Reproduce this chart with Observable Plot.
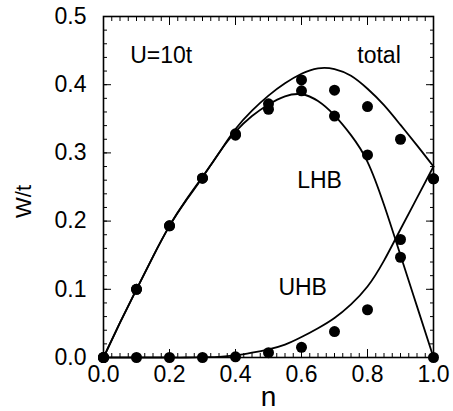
<!DOCTYPE html>
<html><head><meta charset="utf-8">
<script src="https://cdn.jsdelivr.net/npm/d3@7"></script>
<script src="https://cdn.jsdelivr.net/npm/@observablehq/plot@0.6"></script>
<style>body{margin:0;background:#fff} svg{display:block}</style>
</head><body><div id="chart"></div>
<script>
// curve samples
const nCurve     = [0, 0.05, 0.1, 0.15, 0.2, 0.25, 0.3, 0.35, 0.4, 0.45, 0.5, 0.55, 0.6, 0.65, 0.7, 0.75, 0.8, 0.85, 0.9, 0.95, 1.0];
const totalCurve = [0, 0.051, 0.100, 0.148, 0.193, 0.231, 0.265, 0.300, 0.335, 0.362, 0.384, 0.402, 0.416, 0.424, 0.423, 0.413, 0.394, 0.370, 0.341, 0.311, 0.280];
const lhbCurve   = [0, 0.051, 0.100, 0.148, 0.193, 0.230, 0.264, 0.300, 0.331, 0.354, 0.371, 0.383, 0.386, 0.376, 0.355, 0.326, 0.287, 0.224, 0.150, 0.075, 0];
const uhbCurve   = [0, 0, 0, 0, 0, 0, 0.0005, 0.001, 0.003, 0.007, 0.012, 0.019, 0.030, 0.043, 0.058, 0.078, 0.104, 0.142, 0.188, 0.234, 0.280];

// data points
const nDots     = [0, 0.1, 0.2, 0.3, 0.4, 0.5, 0.6, 0.7, 0.8, 0.9, 1.0];
const totalDots = [0, 0.100, 0.193, 0.263, 0.328, 0.372, 0.407, 0.392, 0.368, 0.320, 0.262];
const lhbDots   = [0, 0.100, 0.193, 0.263, 0.326, 0.364, 0.391, 0.354, 0.297, 0.147, 0];
const uhbDots   = [0, 0, 0, 0, 0.001, 0.007, 0.015, 0.038, 0.070, 0.173, 0.262];

// ticks
const xMajor = [0, 0.2, 0.4, 0.6, 0.8, 1.0];
const xMinor = d3.range(0, 41).map(i => i / 40);
const yMajor = [0, 0.1, 0.2, 0.3, 0.4, 0.5];
const yMinor = d3.range(0, 26).map(i => i / 50);

// annotations
const labels = ["U=10t", "total", "LHB", "UHB"];
const labelN = [0.081, 0.769, 0.587, 0.530];
const labelW = [0.442, 0.442, 0.260, 0.103];

const series = [["total", totalCurve], ["LHB", lhbCurve], ["UHB", uhbCurve]];
const curveRows = series.flatMap(([s, ys]) => nCurve.map((n, i) => ({s, n, w: ys[i]})));
const dotRows = [totalDots, lhbDots, uhbDots].flatMap(ys => nDots.map((n, i) => ({n, w: ys[i]})));
const labelRows = labels.map((t, i) => ({t, n: labelN[i], w: labelW[i]}));

const font = "'Liberation Sans', Arial, Helvetica, sans-serif";
const blank = () => "";

const chart = Plot.plot({
  width: 453, height: 411,
  marginLeft: 103, marginRight: 20, marginTop: 16, marginBottom: 54,
  x: {domain: [0, 1]},
  y: {domain: [0, 0.5]},
  style: {fontFamily: font, fontSize: "23px", color: "black", background: "white"},
  marks: [
    Plot.axisX({anchor: "bottom", ticks: xMinor, tickSize: -4, tickFormat: blank, label: null}),
    Plot.axisX({anchor: "top", ticks: xMinor, tickSize: -4, tickFormat: blank, label: null}),
    Plot.axisY({anchor: "left", ticks: yMinor, tickSize: -4, tickFormat: blank, label: null}),
    Plot.axisY({anchor: "right", ticks: yMinor, tickSize: -4, tickFormat: blank, label: null}),
    Plot.axisX({anchor: "bottom", ticks: xMajor, tickSize: -8, tickPadding: 16, tickFormat: d3.format(".1f"), fontSize: 23, label: null}),
    Plot.axisX({anchor: "top", ticks: xMajor, tickSize: -8, tickFormat: blank, label: null}),
    Plot.axisY({anchor: "left", ticks: yMajor, tickSize: -8, tickPadding: 25, tickFormat: d3.format(".1f"), fontSize: 23, label: null}),
    Plot.axisY({anchor: "right", ticks: yMajor, tickSize: -8, tickFormat: blank, label: null}),
    Plot.frame({stroke: "black", strokeWidth: 1.6}),
    Plot.line(curveRows, {x: "n", y: "w", z: "s", curve: "natural", stroke: "black", strokeWidth: 1.8}),
    Plot.dot(dotRows, {x: "n", y: "w", r: 5.5, fill: "black", stroke: "none"}),
    Plot.text(labelRows, {x: "n", y: "w", text: "t", textAnchor: "start", fontSize: 23, fill: "black"}),
    Plot.text(["n"], {frameAnchor: "bottom", dy: 48, fontSize: 28, fill: "black"}),
    Plot.text(["W/t"], {frameAnchor: "left", dx: -80, dy: 31, rotate: -90, fontSize: 22, fill: "black"})
  ]
});
document.getElementById("chart").append(chart);
</script>
</body></html>
